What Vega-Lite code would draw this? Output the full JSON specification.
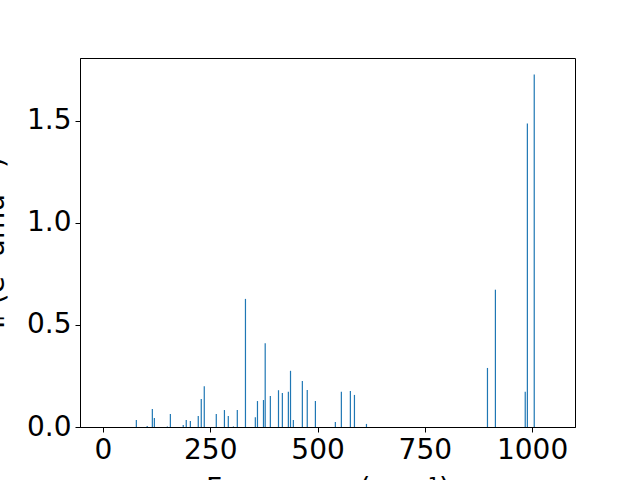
{
  "$schema": "https://vega.github.io/schema/vega-lite/v6.json",
  "autosize": "none",
  "width": 495,
  "height": 369,
  "padding": {"left": 80, "top": 58, "right": 65, "bottom": 53},
  "background": "white",
  "config": {
    "view": {"stroke": "black", "strokeWidth": 1},
    "axis": {
      "grid": false,
      "labelFont": "DejaVu Sans",
      "labelFontSize": 28,
      "labelColor": "black",
      "titleFont": "DejaVu Sans",
      "titleFontSize": 28,
      "titleFontWeight": "normal",
      "titleColor": "black",
      "domainColor": "black",
      "tickColor": "black",
      "tickSize": 5,
      "labelPadding": 4
    }
  },
  "data": {
    "values": [
      {"freq": 77.7, "ir": 0.034},
      {"freq": 103, "ir": 0.005},
      {"freq": 115, "ir": 0.088},
      {"freq": 119.7, "ir": 0.044},
      {"freq": 150, "ir": 0.003},
      {"freq": 157, "ir": 0.064},
      {"freq": 187, "ir": 0.01},
      {"freq": 194, "ir": 0.034},
      {"freq": 203.6, "ir": 0.029},
      {"freq": 222, "ir": 0.054},
      {"freq": 229, "ir": 0.137},
      {"freq": 236, "ir": 0.2},
      {"freq": 264, "ir": 0.064},
      {"freq": 283, "ir": 0.083},
      {"freq": 292, "ir": 0.054},
      {"freq": 304, "ir": 0.003},
      {"freq": 313, "ir": 0.083},
      {"freq": 332, "ir": 0.627},
      {"freq": 355, "ir": 0.048},
      {"freq": 360, "ir": 0.127},
      {"freq": 374, "ir": 0.132},
      {"freq": 378, "ir": 0.41},
      {"freq": 390, "ir": 0.152},
      {"freq": 409, "ir": 0.18},
      {"freq": 418, "ir": 0.167},
      {"freq": 432, "ir": 0.172},
      {"freq": 437, "ir": 0.275},
      {"freq": 443.6, "ir": 0.034},
      {"freq": 464.6, "ir": 0.225},
      {"freq": 476, "ir": 0.181},
      {"freq": 495, "ir": 0.127},
      {"freq": 541.5, "ir": 0.025},
      {"freq": 555.5, "ir": 0.172},
      {"freq": 576.5, "ir": 0.176},
      {"freq": 586, "ir": 0.157},
      {"freq": 614, "ir": 0.015},
      {"freq": 896, "ir": 0.289},
      {"freq": 914.5, "ir": 0.672},
      {"freq": 984, "ir": 0.172},
      {"freq": 989, "ir": 1.485},
      {"freq": 1005, "ir": 1.725}
    ]
  },
  "mark": {"type": "bar", "size": 1.2, "color": "#1f77b4", "clip": true},
  "encoding": {
    "x": {
      "field": "freq",
      "type": "quantitative",
      "scale": {"domain": [-53.6, 1100], "nice": false, "zero": false, "padding": 0},
      "axis": {"values": [0, 250, 500, 750, 1000], "format": "d", "title": "Frequency (cm⁻¹)", "titlePadding": 11}
    },
    "y": {
      "field": "ir",
      "type": "quantitative",
      "scale": {"domain": [0, 1.806], "nice": false, "padding": 0},
      "axis": {"values": [0, 0.5, 1, 1.5], "format": ".1f", "title": "Iᵣ (e² amu⁻¹)", "titlePadding": 17}
    }
  }
}
